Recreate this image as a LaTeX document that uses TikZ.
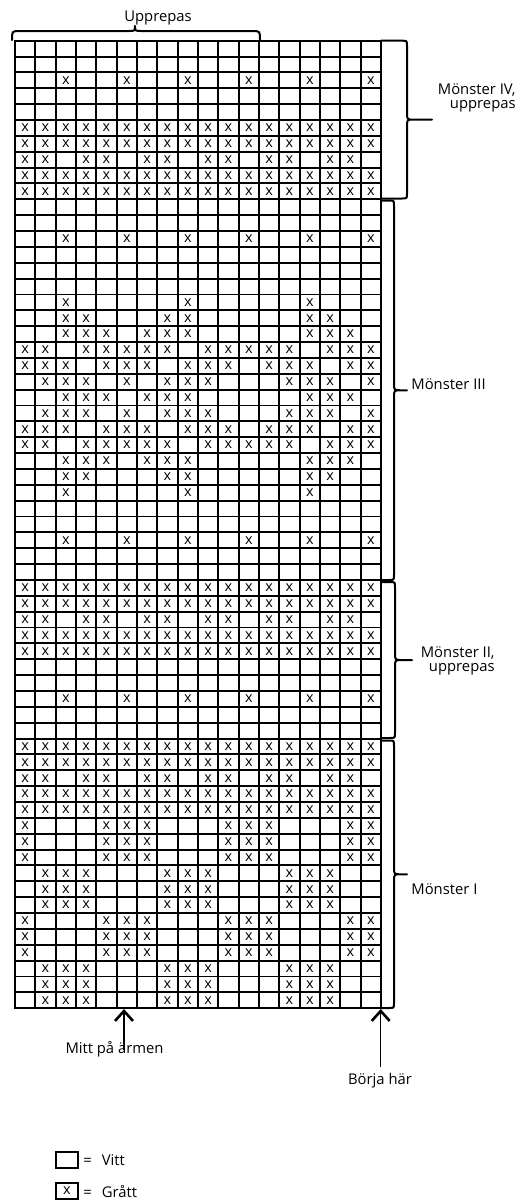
\documentclass[tikz,border=0pt]{standalone}
\usepackage{fontspec}
\setmainfont{Open Sans}
\usetikzlibrary{arrows.meta}
\tikzset{
  gridline/.style={line width=0.95pt},
  outerline/.style={line width=1.1pt},
  xmark/.style={inner sep=0pt, font=\fontsize{7.2}{8}\selectfont},
  lbl/.style={inner sep=0pt, font=\fontsize{7.4}{6.7}\selectfont},
  bracestyle/.style={line width=1pt, line join=round, line cap=round},
  upar/.style={line width=0.75pt, -{Straight Barb[length=5pt,width=9pt,line width=1.3pt]}},
  legbox/.style={draw, line width=1pt, minimum width=11pt, minimum height=8pt, inner sep=0pt, font=\fontsize{7.2}{8}\selectfont},
}
\newcommand\xmk[2]{\node[xmark] (x-#1-#2) at ({15+(#2-0.5)*20.333},{40.7+(#1-0.5)*15.86}) {x};}
\newcommand\sbrace[4]{%
  \pgfmathsetmacro\ymid{(#1+#2)/2}
  \draw[bracestyle] (381,#1) -- ({#3-5},#1) .. controls (#3,#1) .. (#3,{#1+5})
    -- (#3,{\ymid-7}) .. controls (#3,\ymid) .. ({#3+7},\ymid) -- (#4,\ymid)
    -- ({#3+7},\ymid) .. controls (#3,\ymid) .. (#3,{\ymid+7})
    -- (#3,{#2-5}) .. controls (#3,#2) .. ({#3-5},#2) -- (381,#2);}
\begin{document}
\begin{tikzpicture}[x=0.5pt,y=-0.5pt]
\useasboundingbox (0,0) rectangle (519,1200);
\fill[white] (0,0) rectangle (519,1200);
% grid
\foreach \k in {0,...,18} \draw[gridline] ({15+\k*20.333},40.7) -- ({15+\k*20.333},1008.2);
\foreach \k in {0,...,61} \draw[gridline] (15,{40.7+\k*15.86}) -- (381,{40.7+\k*15.86});
\draw[outerline] (15,40.7) rectangle (381,1008.2);
% marks
\foreach \r in {3,13,32,42} \foreach \c in {3,6,9,12,15,18} {\xmk{\r}{\c}}
\foreach \r in {6,7,9,10,35,36,38,39,45,46,48,49} \foreach \c in {1,...,18} {\xmk{\r}{\c}}
\foreach \r in {8,37,47} \foreach \c in {1,2,4,5,7,8,10,11,13,14,16,17} {\xmk{\r}{\c}}
\foreach \r in {17,29} \foreach \c in {3,9,15} {\xmk{\r}{\c}}
\foreach \r in {18,28} \foreach \c in {3,4,8,9,15,16} {\xmk{\r}{\c}}
\foreach \r in {19,23,27} \foreach \c in {3,4,5,7,8,9,15,16,17} {\xmk{\r}{\c}}
\foreach \r in {20,26} \foreach \c in {1,2,4,5,6,7,8,10,11,12,13,14,16,17,18} {\xmk{\r}{\c}}
\foreach \r in {21,25} \foreach \c in {1,2,3,5,6,7,9,10,11,13,14,15,17,18} {\xmk{\r}{\c}}
\foreach \r in {22,24} \foreach \c in {2,3,4,6,8,9,10,14,15,16,18} {\xmk{\r}{\c}}
\foreach \r in {50,51,52,56,57,58} \foreach \c in {1,5,6,7,11,12,13,17,18} {\xmk{\r}{\c}}
\foreach \r in {53,54,55,59,60,61} \foreach \c in {2,3,4,8,9,10,14,15,16} {\xmk{\r}{\c}}
% top brace
\draw[bracestyle] (12,40) .. controls (12,31) .. (20,31) -- (128,31) .. controls (135,31) .. (135,26)
  .. controls (135,31) .. (142,31) -- (252,31) .. controls (260,31) .. (260,40);
\node[lbl] (upp) at (158,18) {Upprepas};
% side braces
\sbrace{40.7}{198.5}{407}{432}
\sbrace{200.5}{580}{394}{407}
\sbrace{582}{738}{395}{412}
\sbrace{740.5}{1008}{394}{407}
\node[lbl, align=right, anchor=east] (m4) at (516,98) {Mönster IV,\\upprepas};
\node[lbl, anchor=west] (m3) at (411,384) {Mönster III};
\node[lbl, align=right, anchor=east] (m2) at (495,661) {Mönster II,\\upprepas};
\node[lbl, anchor=west] (m1) at (411,889) {Mönster I};
% arrows
\coordinate (mittfoot) at (124,1050);
\coordinate (mitttip) at (124,1009);
\draw[upar] (mittfoot) -- (mitttip);
\node[lbl] (mitt) at (114.5,1049) {Mitt på ärmen};
\coordinate (borjafoot) at (380.7,1067);
\coordinate (borjatip) at (380.7,1009);
\draw[upar] (borjafoot) -- (borjatip);
\node[lbl] (borja) at (380,1081) {Börja här};
% legend
\node[legbox] (leg1) at (67,1160) {};
\node[lbl, anchor=west] (leg1t) at (83,1160) {=\hspace{5pt}Vitt};
\node[legbox] (leg2) at (67,1191) {x};
\node[lbl, anchor=west] (leg2t) at (83,1192) {=\hspace{5pt}Grått};
\end{tikzpicture}
\end{document}
